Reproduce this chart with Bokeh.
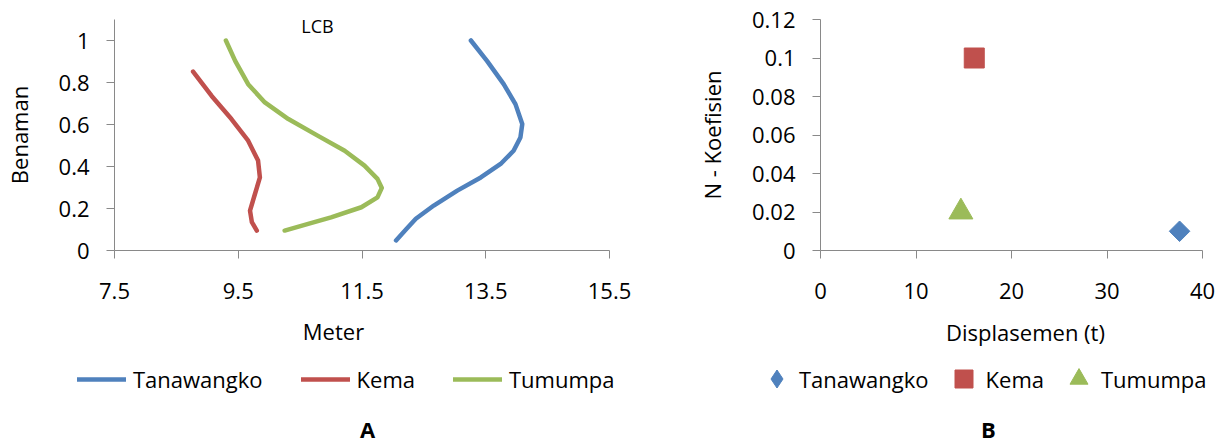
import math
from bokeh.plotting import figure
from bokeh.layouts import row, column
from bokeh.models import FixedTicker, Range1d, Label, Legend, LegendItem
from bokeh.embed import file_html
from bokeh.resources import INLINE

# ---------------- Panel A data (LCB) ----------------
series_names = ["Tanawangko", "Kema", "Tumumpa"]

tanawangko_meter = [13.26, 13.52, 13.79, 13.98, 14.09, 14.06, 13.95, 13.74, 13.42, 13.04, 12.66, 12.37, 12.21, 12.05]
tanawangko_benaman = [1.0, 0.903, 0.792, 0.697, 0.602, 0.538, 0.475, 0.412, 0.348, 0.285, 0.214, 0.151, 0.10, 0.048]

kema_meter = [8.77, 9.07, 9.39, 9.66, 9.82, 9.85, 9.77, 9.69, 9.72, 9.80]
kema_benaman = [0.852, 0.736, 0.626, 0.523, 0.428, 0.348, 0.269, 0.19, 0.135, 0.095]

tumumpa_meter = [9.30, 9.45, 9.66, 9.93, 10.31, 10.79, 11.22, 11.54, 11.75, 11.82, 11.75, 11.49, 11.0, 10.63, 10.25]
tumumpa_benaman = [1.0, 0.903, 0.792, 0.705, 0.626, 0.546, 0.475, 0.404, 0.341, 0.298, 0.253, 0.206, 0.158, 0.127, 0.095]

a_x_ticks = [7.5, 9.5, 11.5, 13.5, 15.5]
a_y_ticks = [0, 0.2, 0.4, 0.6, 0.8, 1.0]
a_y_tick_labels = ["0", "0.2", "0.4", "0.6", "0.8", "1"]

# ---------------- Panel B data ----------------
b_displasemen = [37.6, 16.1, 14.7]
b_koefisien = [0.01, 0.1, 0.02]
b_x_ticks = [0, 10, 20, 30, 40]
b_y_ticks = [0, 0.02, 0.04, 0.06, 0.08, 0.1, 0.12]
b_y_tick_labels = ["0", "0.02", "0.04", "0.06", "0.08", "0.1", "0.12"]

BLUE = "#4F81BD"
RED = "#C0504D"
GREEN = "#9BBB59"
COLORS = [BLUE, RED, GREEN]
AXIS_GREY = "#898989"
FONT = "Open Sans"
FS = "22px"

a_x = [tanawangko_meter, kema_meter, tumumpa_meter]
a_y = [tanawangko_benaman, kema_benaman, tumumpa_benaman]
markers = ["square", "square", "triangle"]
legend_markers = ["diamond", "square", "triangle"]
angles = [math.pi / 4, 0, 0]
sizes = [14.5, 20, 24]


def style(p, xt, yt, ylabels, ylabel):
    p.xgrid.visible = False
    p.ygrid.visible = False
    p.outline_line_color = None
    p.background_fill_color = "white"
    p.border_fill_color = "white"
    for ax in (p.xaxis[0], p.yaxis[0]):
        ax.axis_line_color = AXIS_GREY
        ax.major_tick_line_color = AXIS_GREY
        ax.minor_tick_line_color = None
        ax.major_tick_in = 0
        ax.major_tick_out = 8
        ax.major_label_text_font = FONT
        ax.major_label_text_font_size = FS
        ax.major_label_text_color = "black"
    p.xaxis[0].ticker = FixedTicker(ticks=xt)
    p.yaxis[0].ticker = FixedTicker(ticks=yt)
    p.yaxis[0].major_label_overrides = {t: l for t, l in zip(yt, ylabels)}
    p.xaxis[0].major_label_standoff = 24
    p.yaxis[0].major_label_standoff = 17
    p.yaxis[0].axis_label = ylabel
    p.yaxis[0].axis_label_standoff = 22
    p.yaxis[0].axis_label_text_font = FONT
    p.yaxis[0].axis_label_text_font_size = FS
    p.yaxis[0].axis_label_text_font_style = "normal"
    p.yaxis[0].axis_label_text_color = "black"


def bottom_fig(width, x_range, y_range):
    q = figure(width=width, height=130, output_backend="svg", toolbar_location=None,
               x_axis_location=None, y_axis_location=None, x_range=x_range, y_range=y_range,
               min_border_left=0, min_border_right=0, min_border_top=0, min_border_bottom=0)
    q.xgrid.visible = False
    q.ygrid.visible = False
    q.outline_line_color = None
    return q


def text_label(x, y, text, bold=False):
    return Label(x=x, y=y, x_units="screen", y_units="screen", text=text,
                 text_font=FONT, text_font_size=FS, text_font_style="bold" if bold else "normal",
                 text_color="black", text_align="center", text_baseline="middle")


def make_legend(items, loc, gw, gh, standoff, spacing):
    return Legend(items=items, orientation="horizontal", location=loc,
                  padding=0, margin=0, spacing=spacing,
                  border_line_color=None, background_fill_alpha=0,
                  inactive_fill_alpha=0,
                  glyph_width=gw, glyph_height=gh, label_height=30,
                  label_standoff=standoff, label_text_font=FONT, label_text_font_size=FS,
                  label_text_color="black")


# ---------------- Figure A (chart) ----------------
pa = figure(width=650, height=313, output_backend="svg", toolbar_location=None,
            x_range=Range1d(7.5, 15.5), y_range=Range1d(0, 1.1),
            min_border_left=112, min_border_right=41, min_border_top=19, min_border_bottom=63)
style(pa, a_x_ticks, a_y_ticks, a_y_tick_labels, "Benaman")
for xs, ys, col in zip(a_x, a_y, COLORS):
    pa.line(xs, ys, line_color=col, line_width=4.5, line_join="round", line_cap="round")
pa.add_layout(Label(x=203, y=225, x_units="screen", y_units="screen", text="LCB",
                    text_font=FONT, text_font_size="18px", text_color="black",
                    text_align="center", text_baseline="middle"))

# ---------------- Figure A (captions + legend) ----------------
qa = bottom_fig(650, pa.x_range, pa.y_range)
items_a = []
for name, xs, ys, col in zip(series_names, a_x, a_y, COLORS):
    r = qa.line(xs, ys, line_color=col, line_width=4.5, line_cap="round", visible=False)
    items_a.append(LegendItem(label=name, renderers=[r]))
qa.add_layout(make_legend(items_a, (77, 49), 49, 30, 7, 38))
qa.add_layout(text_label(333, 113, "Meter"))
qa.add_layout(text_label(367, 15, "A", bold=True))

# ---------------- Figure B (chart) ----------------
pb = figure(width=573, height=313, output_backend="svg", toolbar_location=None,
            x_range=Range1d(0, 40), y_range=Range1d(0, 0.12),
            min_border_left=170, min_border_right=21, min_border_top=19, min_border_bottom=63)
style(pb, b_x_ticks, b_y_ticks, b_y_tick_labels, "N - Koefisien")
for xv, yv, col, mk, ang, sz in zip(b_displasemen, b_koefisien, COLORS, markers, angles, sizes):
    pb.scatter([xv], [yv], marker=mk, angle=ang, size=sz, fill_color=col, line_color=col)

# ---------------- Figure B (captions + legend) ----------------
qb = bottom_fig(573, pb.x_range, pb.y_range)
items_b = []
for name, xv, yv, col, mk, sz in zip(series_names, b_displasemen, b_koefisien,
                                     COLORS, legend_markers, sizes):
    r = qb.scatter([xv], [yv], marker=mk, size=sz, fill_color=col, line_color=col, visible=False)
    items_b.append(LegendItem(label=name, renderers=[r]))
qb.add_layout(make_legend(items_b, (104, 42), 45, 45, 0, 12))
qb.add_layout(text_label(375, 112, "Displasemen (t)"))
qb.add_layout(text_label(338, 15, "B", bold=True))

layout = column(row(pa, pb), row(qa, qb))
open("out.html", "w").write(file_html(layout, INLINE))
